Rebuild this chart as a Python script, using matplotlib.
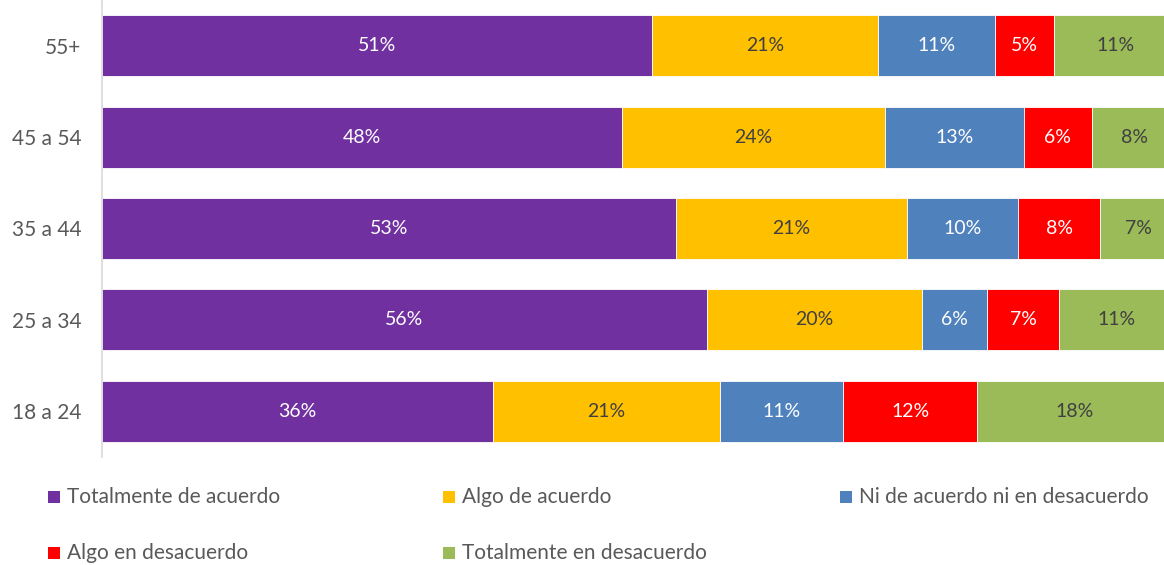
import numpy as np
import matplotlib.pyplot as plt
from matplotlib.patches import Rectangle

plt.rcParams['font.family'] = ['Lato', 'DejaVu Sans']

# ----- datos (porcentajes) -----
grupos = ["18 a 24", "25 a 34", "35 a 44", "45 a 54", "55+"]
series = ["Totalmente de acuerdo", "Algo de acuerdo",
          "Ni de acuerdo ni en desacuerdo", "Algo en desacuerdo",
          "Totalmente en desacuerdo"]
tot_acuerdo = [36.2, 56.0, 53.1, 48.1, 50.9]
algo_acuerdo = [21.0, 19.9, 21.4, 24.4, 20.9]
ni_ni = [11.4, 6.0, 10.3, 12.8, 10.9]
algo_desacuerdo = [12.4, 6.7, 7.6, 6.3, 5.4]
tot_desacuerdo = [18.1, 10.7, 7.0, 8.0, 11.4]

colores = ["#7030A0", "#FFC000", "#4F81BD", "#FF0000", "#9BBB59"]
col_texto = ["white", "#404040", "white", "white", "#404040"]

valores = [tot_acuerdo, algo_acuerdo, ni_ni, algo_desacuerdo, tot_desacuerdo]

fig = plt.figure(figsize=(11.64, 5.65), dpi=100)
ax = fig.add_axes([102 / 1164, 1 - 457 / 565, 1 - 102 / 1164, 457 / 565])

y = np.arange(len(grupos))
izq = np.zeros(len(grupos))
for vals, c, tc in zip(valores, colores, col_texto):
    vals = np.array(vals, dtype=float)
    bars = ax.barh(y, vals, left=izq, height=0.667, color=c,
                   edgecolor="white", linewidth=0.6)
    for b, v in zip(bars, vals):
        ax.text(b.get_x() + b.get_width() / 2, b.get_y() + b.get_height() / 2,
                f"{v:.0f}%", ha="center", va="center", color=tc, fontsize=14)
    izq += vals

ax.set_xlim(0, 98.3)
ax.set_ylim(-0.5, 4.5)
ax.set_yticks(y)
ax.set_yticklabels(grupos, fontsize=15, color="#595959")
ax.tick_params(axis="y", length=0, pad=15)
ax.set_xticks([])
for s in ["top", "right", "bottom"]:
    ax.spines[s].set_visible(False)
ax.spines["left"].set_color("#D9D9D9")
ax.spines["left"].set_linewidth(1.2)

# ----- leyenda -----
pos_leyenda = [(48, 497), (443, 497), (840, 497), (48, 553), (443, 553)]
W, H = 1164, 565
for (px, py), nombre, c in zip(pos_leyenda, series, colores):
    fig.add_artist(Rectangle((px / W, 1 - (py + 6) / H), 12 / W, 12 / H,
                             transform=fig.transFigure, facecolor=c,
                             edgecolor="none"))
    fig.text((px + 19) / W, 1 - py / H, nombre, ha="left", va="center",
             fontsize=15, color="#595959")

fig.savefig("out.png", dpi=100)
